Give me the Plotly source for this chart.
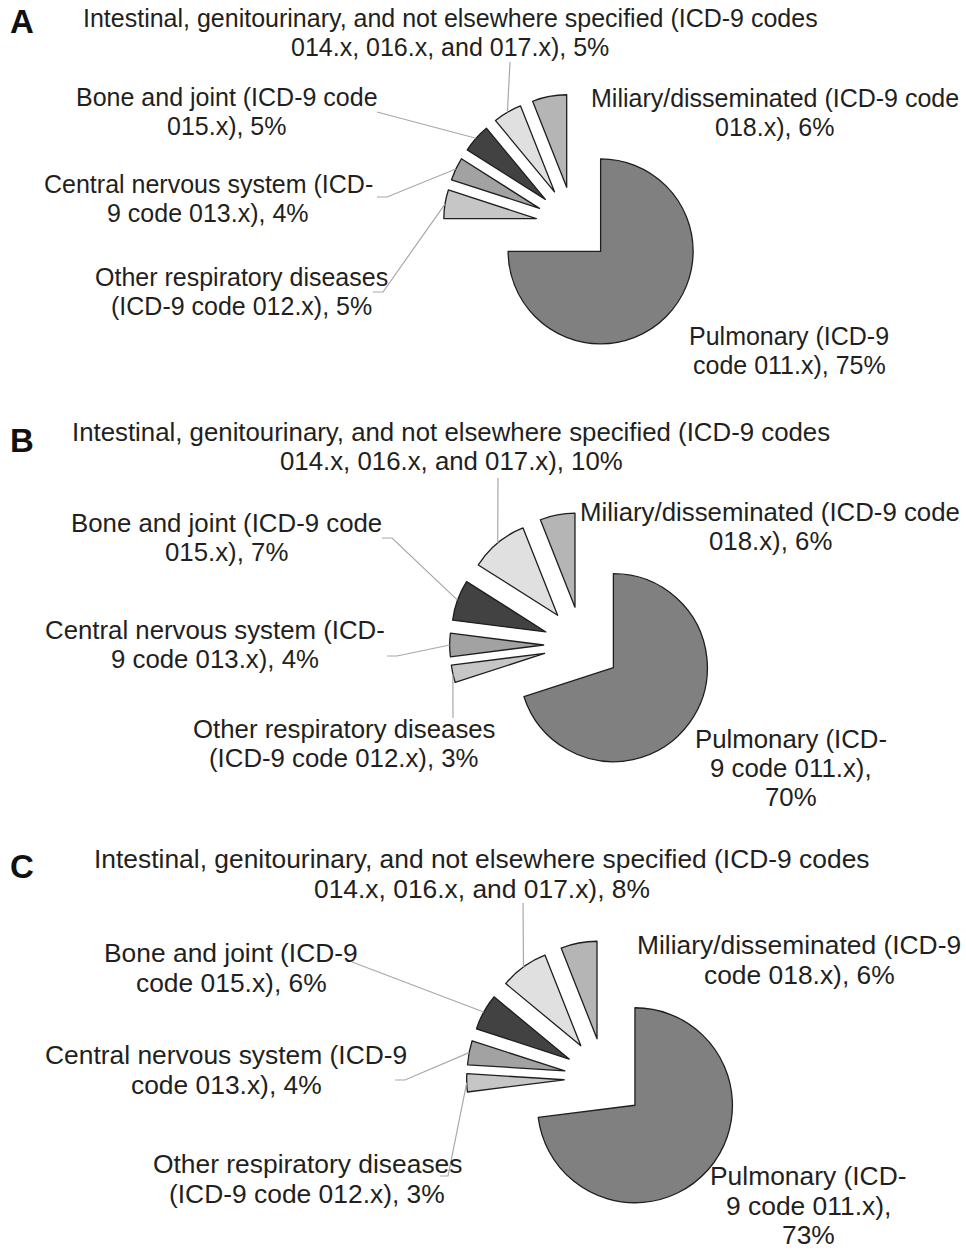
import math
import plotly.graph_objects as go

W, H = 966, 1252

# ---------------- data ----------------
categories = [
    "Pulmonary",
    "Other respiratory diseases",
    "Central nervous system",
    "Bone and joint",
    "Intestinal, genitourinary, and not elsewhere specified",
    "Miliary/disseminated",
]
values_A = [75, 5, 4, 5, 5, 6]
values_B = [70, 3, 4, 7, 10, 6]
values_C = [73, 3, 4, 6, 8, 6]

labels_A = [
    ["Pulmonary (ICD-9", "code 011.x), 75%"],
    ["Other respiratory diseases", "(ICD-9 code 012.x), 5%"],
    ["Central nervous system (ICD-", "9 code 013.x), 4%"],
    ["Bone and joint (ICD-9 code", "015.x), 5%"],
    ["Intestinal, genitourinary, and not elsewhere specified (ICD-9 codes",
     "014.x, 016.x, and 017.x), 5%"],
    ["Miliary/disseminated (ICD-9 code", "018.x), 6%"],
]
labels_B = [
    ["Pulmonary (ICD-", "9 code 011.x),", "70%"],
    ["Other respiratory diseases", "(ICD-9 code 012.x), 3%"],
    ["Central nervous system (ICD-", "9 code 013.x), 4%"],
    ["Bone and joint (ICD-9 code", "015.x), 7%"],
    ["Intestinal, genitourinary, and not elsewhere specified (ICD-9 codes",
     "014.x, 016.x, and 017.x), 10%"],
    ["Miliary/disseminated (ICD-9 code", "018.x), 6%"],
]
labels_C = [
    ["Pulmonary (ICD-", "9 code 011.x),", "73%"],
    ["Other respiratory diseases", "(ICD-9 code 012.x), 3%"],
    ["Central nervous system (ICD-9", "code 013.x), 4%"],
    ["Bone and joint (ICD-9", "code 015.x), 6%"],
    ["Intestinal, genitourinary, and not elsewhere specified (ICD-9 codes",
     "014.x, 016.x, and 017.x), 8%"],
    ["Miliary/disseminated (ICD-9", "code 018.x), 6%"],
]

# ---------------- styles / layout ----------------
slice_colors = ["#808080", "#c6c6c6", "#a2a2a2", "#424242", "#e0e0e0", "#b5b5b5"]
TEXT_COLOR = "#231f20"
LEADER_COLOR = "#a8a8a8"
FONT = "Liberation Sans, Arial, sans-serif"

panels = [
    dict(letter="A", values=values_A, labels=labels_A,
         cx=573.8, cy=224.5, r=92.5, pull=0.41, fsize=25, lsp=29, letter_y=22,
         pos=[(789, 336), (241, 277), (208, 184), (227, 97), (450, 18), (775, 98)],
         leaders={4: [(510, 62)], 3: [(377, 112)],
                  2: [(377, 197), (387, 197)], 1: [(373, 292), (383, 292)]}),
    dict(letter="B", values=values_B, labels=labels_B,
         cx=582.2, cy=645.0, r=94, pull=0.41, fsize=25.8, lsp=29, letter_y=440,
         pos=[(791, 739), (344, 729), (215, 630), (226, 523), (451, 432), (770, 512)],
         leaders={4: [(498, 478)], 3: [(382, 538), (392, 538)],
                  2: [(387, 656), (397, 656)], 1: [(453, 718)]}),
    dict(letter="C", values=values_C, labels=labels_C,
         cx=604.6, cy=1078.5, r=97.5, pull=0.415, fsize=26.4, lsp=29.5, letter_y=866,
         pos=[(808, 1176), (307, 1164), (226, 1055), (231, 953), (482, 859), (799, 945)],
         leaders={4: [(523, 903)], 3: [(352, 962)],
                  2: [(395, 1080), (405, 1080)], 1: [(440, 1176), (448, 1176)]}),
]


def px(x):
    return x / W


def py(y):
    return 1 - y / H


def slice_tip(values, idx, cx, cy, r, pull):
    total = float(sum(values))
    start = sum(values[:idx]) / total * 360.0
    mid = math.radians(start + values[idx] / total * 180.0)
    R = r * (1 + pull)
    return cx + R * math.sin(mid), cy - R * math.cos(mid)


fig = go.Figure()
annotations = []
shapes = []

for p in panels:
    R = p["r"] * (1 + p["pull"])
    fig.add_trace(go.Pie(
        labels=categories,
        values=p["values"],
        sort=False,
        direction="clockwise",
        rotation=0,
        pull=p["pull"],
        textinfo="none",
        hoverinfo="skip",
        showlegend=False,
        marker=dict(colors=slice_colors, line=dict(color="#1e1e1e", width=1.3)),
        domain=dict(x=[px(p["cx"] - R), px(p["cx"] + R)],
                    y=[py(p["cy"] + R), py(p["cy"] - R)]),
    ))

    # panel letter
    annotations.append(dict(
        text="<b>%s</b>" % p["letter"], x=px(22), y=py(p["letter_y"]),
        xref="paper", yref="paper", xanchor="center", yanchor="middle",
        showarrow=False, font=dict(family=FONT, size=33, color="#111111")))

    # labels
    for i, lines in enumerate(p["labels"]):
        x0, y0 = p["pos"][i]
        for k, line in enumerate(lines):
            annotations.append(dict(
                text=line, x=px(x0), y=py(y0 + k * p["lsp"]),
                xref="paper", yref="paper", xanchor="center", yanchor="middle",
                showarrow=False,
                font=dict(family=FONT, size=p["fsize"], color=TEXT_COLOR)))

    # leader lines (slice end computed from the data)
    for idx, pts in p["leaders"].items():
        tip = slice_tip(p["values"], idx, p["cx"], p["cy"], p["r"], p["pull"])
        allpts = list(pts) + [tip]
        path = "M " + " L ".join("%.5f,%.5f" % (px(a), py(b)) for a, b in allpts)
        shapes.append(dict(type="path", path=path, xref="paper", yref="paper",
                           line=dict(color=LEADER_COLOR, width=1.2)))

fig.update_layout(
    width=W, height=H,
    margin=dict(l=0, r=0, t=0, b=0),
    paper_bgcolor="white", plot_bgcolor="white",
    annotations=annotations, shapes=shapes,
)

# remove the browser's default 8px page margin so the figure sits at (0, 0)
fig.write_html(
    "out.html",
    config={"displayModeBar": False},
    post_script="document.body.style.margin='0';document.body.style.overflow='hidden';",
)
